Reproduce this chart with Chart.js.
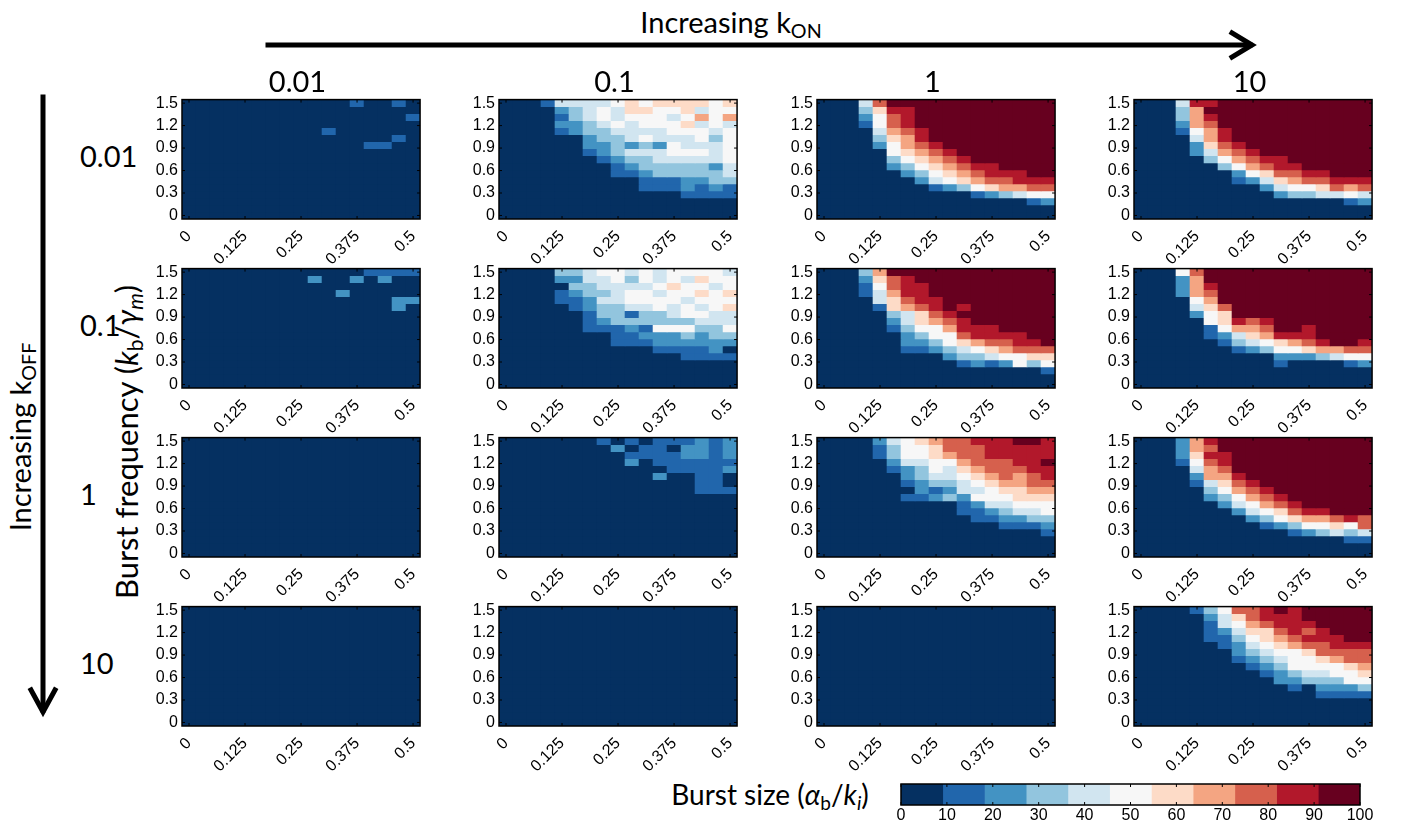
<!DOCTYPE html>
<html>
<head>
<meta charset="utf-8">
<script src="https://cdn.jsdelivr.net/npm/chart.js@4.4.1/dist/chart.umd.min.js"></script>
<style>
  body { margin: 0; background: #fff; }
  #fig { position: relative; width: 1405px; height: 824px; overflow: hidden; background: #fff;
         font-family: Lato, "Liberation Sans", sans-serif; color: #000; }
  #fig canvas { position: absolute; }
  .lbl { position: absolute; white-space: nowrap; transform: translate(-50%, -50%); line-height: 1; }
  .rot { transform: translate(-50%, -50%) rotate(-90deg); }
  .lbl sub { font-size: 68%; vertical-align: -0.25em; }
</style>
</head>
<body>
<div id="fig">
  <svg width="1405" height="824" style="position:absolute;left:0;top:0">
    <g stroke="#000" stroke-width="5" fill="none" stroke-linecap="square">
      <line x1="268" y1="45" x2="1250" y2="45"/>
      <polyline points="1232,33 1252,45 1232,57"/>
      <line x1="43" y1="97" x2="43" y2="710"/>
      <polyline points="31,690 43,712 55,690"/>
    </g>
  </svg>
  <div class="lbl" style="left:731px;top:24px;font-size:29px">Increasing k<sub>ON</sub></div>
  <div class="lbl rot" style="left:22px;top:437px;font-size:29px">Increasing k<sub>OFF</sub></div>
  <div class="lbl rot" style="left:128px;top:442px;font-size:31px">Burst frequency (<i>k</i><sub>b</sub>/<i>γ<sub>m</sub></i>)</div>
  <div class="lbl" style="left:770px;top:796px;font-size:28px">Burst size (<i>α</i><sub>b</sub>/<i>k<sub>i</sub></i>)</div>
</div>
<script>
// grid coordinates of the simulated parameter sweep
const burstSize = [0, 0.03125, 0.0625, 0.09375, 0.125, 0.15625, 0.1875, 0.21875, 0.25,
                   0.28125, 0.3125, 0.34375, 0.375, 0.40625, 0.4375, 0.46875, 0.5];
const burstFreq = [1.5, 1.40625, 1.3125, 1.21875, 1.125, 1.03125, 0.9375, 0.84375, 0.75,
                   0.65625, 0.5625, 0.46875, 0.375, 0.28125, 0.1875, 0.09375, 0];
const xTicks = [0, 0.125, 0.25, 0.375, 0.5];
const yTicks = [0, 0.3, 0.6, 0.9, 1.2, 1.5];
const kOnLabels = ["0.01", "0.1", "1", "10"];
const kOffLabels = ["0.01", "0.1", "1", "10"];

// colour classes (0..10) of the colorbar
const binEdges = [0, 9.09, 18.18, 27.27, 36.36, 45.45, 54.55, 63.64, 72.73, 81.82, 90.91, 100];
const cbTicks = [0, 10, 20, 30, 40, 50, 60, 70, 80, 90, 100];
const palette = ["#053061", "#2166ac", "#4393c3", "#92c5de", "#d1e5f0", "#f7f7f7",
                 "#fddbc7", "#f4a582", "#d6604d", "#b2182b", "#67001f"];

// each panel: rows from top (freq 1.5) to bottom (freq 0), one char per burst size column,
// char = colour class (a = 10)
const Z = "00000000000000000";
const off001_on001 = ["00000000000010010", Z, "00000000000000001", Z, "00000000001000000",
  "00000000000000010", "00000000000001100", Z, Z, Z, Z, Z, Z, Z, Z, Z, Z];
const off001_on01 = ["00014444565666656", "00002345466556455", "00001345455545757",
  "00002234545556454", "00001233444455545", "00000023345444535", "00000022323254445",
  "00000012344455545", "00000001233444445", "00000000123333324", "00000000112333334",
  "00000000001112233", "00000000001112121", "00000000000001111", Z, Z, Z];
const off001_on1 = ["00048aaaaaaaaaaaa", "0003699aaaaaaaaaa", "0002589aaaaaaaaaa",
  "0001589aaaaaaaaaa", "00004789aaaaaaaaa", "00003679aaaaaaaaa", "000025789aaaaaaaa",
  "0000056789aaaaaaa", "00000356789aaaaaa", "0000023567899aaaa", "000000235678999aa",
  "00000002456788999", "00000000123567788", "00000000000123455", "00000000000000012", Z, Z];
const off001_on10 = ["000499aaaaaaaaaaa", "00037aaaaaaaaaaaa", "000379aaaaaaaaaaa",
  "000278aaaaaaaaaaa", "0001579aaaaaaaaaa", "0000479aaaaaaaaaa", "00002689aaaaaaaaa",
  "000024789aaaaaaaa", "00000357899aaaaaa", "000000357899aaaaa", "00000002568899aaa",
  "00000001246788999", "00000000024556878", "00000000002334454", "00000000000000012", Z, Z];

const off01_on001 = ["00000000000001111", "00000000020020200", Z, "00000000000200000",
  "00000000000000022", "00000000000000020", Z, Z, Z, Z, Z, Z, Z, Z, Z, Z, Z];
const off01_on01 = ["00003345545455554", "00002244535454655", "00000334444565545",
  "00001233455455656", "00001124455554555", "00000123344545456", "00000013313345544",
  "00000012333333444", "00000011121555335", "00000000112223233", "00000000111222222",
  "00000000000111120", "00000000000001111", Z, Z, Z, Z];
const off01_on1 = ["00037aaaaaaaaaaaa", "0002689aaaaaaaaaa", "00015899aaaaaaaaa",
  "00014799aaaaaaaaa", "000046899aaaaaaaa", "000016789a9aaaaaa", "0000034689aaaaaaa",
  "00000246789aaaaaa", "0000013557999aaaa", "000000235589999aa", "0000002235678899a",
  "00000011234567888", "00000000023345566", "00000000001212535", "00000000000000001", Z, Z];
const off01_on10 = ["00058aaaaaaaaaaaa", "00027aaaaaaaaaaaa", "000279aaaaaaaaaaa",
  "000278aaaaaaaaaaa", "000057aaaaaaaaaaa", "0000468aaaaaaaaaa", "0000256aaaaaaaaaa",
  "0000056989aaaaaaa", "0000015778aa9aaaa", "0000012467999aaaa", "00000013456789aa9",
  "00000001235567788", "00000000002223455", "00000000001000012", Z, Z, Z];

const off1_on001 = [Z, Z, Z, Z, Z, Z, Z, Z, Z, Z, Z, Z, Z, Z, Z, Z, Z];
const off1_on01 = ["00000001010111212", "00000000201102212", "00000000011112212",
  "00000000020111111", "00000000000011112", "00000000000200110", "00000000000000110",
  "00000000000000111", Z, Z, Z, Z, Z, Z, Z, Z, Z];
const off1_on1 = ["00002456788999aa9", "00001355688899999", "00001355678899999",
  "0000024455788899a", "00000123546788899", "00000023445678789", "00000012334567788",
  "00000002124456677", "00000011232555666", "00000000001244555", "00000000001123445",
  "00000000000112233", "00000000000001112", "00000000000000001", Z, Z, Z];
const off1_on10 = ["000279aaaaaaaaaaa", "000278aaaaaaaaaaa", "0002699aaaaaaaaaa",
  "0001589aaaaaaaaaa", "0000478aaaaaaaaaa", "00002779aaaaaaaaa", "000014689aaaaaaaa",
  "0000035789aaaaaaa", "00000235789aaaaaa", "000000245789aaaaa", "00000002456899aaa",
  "00000000235677898", "00000000012355658", "00000000000123434", "00000000000000011", Z, Z];

const off10_on001 = [Z, Z, Z, Z, Z, Z, Z, Z, Z, Z, Z, Z, Z, Z, Z, Z, Z];
const off10_on01 = [Z, Z, Z, Z, Z, Z, Z, Z, Z, Z, Z, Z, Z, Z, Z, Z, Z];
const off10_on1 = [Z, Z, Z, Z, Z, Z, Z, Z, Z, Z, Z, Z, Z, Z, Z, Z, Z];
const off10_on10 = ["0000135889a9aaaaa", "000002468999aaaaa", "0000014578999aaaa",
  "00000124668989aaa", "000001135678999aa", "00000012456788999", "00000002345568888",
  "00000001234556788", "00000000123555567", "00000000012344556", "00000000002233355",
  "00000000000102223", "00000000000001111", Z, Z, Z, Z];

const panels = [
  [off001_on001, off001_on01, off001_on1, off001_on10],
  [off01_on001, off01_on01, off01_on1, off01_on10],
  [off1_on001, off1_on01, off1_on1, off1_on10],
  [off10_on001, off10_on01, off10_on1, off10_on10],
];

// layout (px)
const panelLeft = [182, 499, 817, 1134];
const panelTop = [98, 267, 436, 605];
const panelW = 241, panelH = 121;
const padL = 40, padR = 12, padT = 12, padB = 52;

const fig = document.getElementById("fig");
const tickFont = { family: "Liberation Sans", size: 16 };

// box round the plot area with small inward ticks, matlab style
const framePlugin = {
  id: "frame",
  afterDatasetsDraw(chart, args, opts) {
    const { ctx, chartArea: a, scales } = chart;
    ctx.save();
    ctx.strokeStyle = "#000";
    ctx.lineWidth = 1;
    (opts.xTicks || []).forEach((v) => {
      const px = scales.x.getPixelForValue(v);
      ctx.beginPath();
      ctx.moveTo(px, a.bottom); ctx.lineTo(px, a.bottom - 3);
      ctx.moveTo(px, a.top); ctx.lineTo(px, a.top + 3);
      ctx.stroke();
    });
    (opts.yTicks || []).forEach((v) => {
      const py = scales.y.getPixelForValue(v);
      ctx.beginPath();
      ctx.moveTo(a.left, py); ctx.lineTo(a.left + 3, py);
      ctx.moveTo(a.right, py); ctx.lineTo(a.right - 3, py);
      ctx.stroke();
    });
    ctx.lineWidth = 1.5;
    ctx.strokeRect(a.left, a.top, a.right - a.left, a.bottom - a.top);
    ctx.restore();
  },
};

function makeCanvas(left, top, w, h) {
  const c = document.createElement("canvas");
  c.width = w; c.height = h;
  c.style.left = left + "px"; c.style.top = top + "px";
  c.style.width = w + "px"; c.style.height = h + "px";
  fig.appendChild(c);
  return c;
}

function drawPanel(grid, left, top) {
  const hx = (burstSize[1] - burstSize[0]) / 2;
  const hy = (burstFreq[0] - burstFreq[1]) / 2;
  const datasets = grid.map((row, r) => ({
    data: burstSize.map((x) => ({ x: x, y: [burstFreq[r] - hy, burstFreq[r] + hy] })),
    backgroundColor: row.split("").map((ch) => palette[parseInt(ch, 16)]),
    borderWidth: 0,
    grouped: false,
    barPercentage: 1,
    categoryPercentage: 1,
  }));
  const canvas = makeCanvas(left - padL, top - padT, panelW + padL + padR, panelH + padT + padB);
  new Chart(canvas, {
    type: "bar",
    data: { datasets: datasets },
    options: {
      responsive: false,
      animation: false,
      events: [],
      layout: { padding: { top: padT, right: padR, left: 0, bottom: 0 } },
      plugins: {
        legend: { display: false },
        tooltip: { enabled: false },
        frame: { xTicks: xTicks, yTicks: yTicks },
      },
      scales: {
        x: {
          type: "linear",
          offset: false,
          min: burstSize[0] - hx,
          max: burstSize[burstSize.length - 1] + hx,
          afterBuildTicks: (s) => { s.ticks = xTicks.map((v) => ({ value: v })); },
          afterFit: (s) => { s.height = padB; },
          grid: { display: false, drawTicks: false },
          border: { display: false },
          ticks: {
            autoSkip: false, minRotation: 45, maxRotation: 45, padding: 8,
            color: "#000", font: tickFont, callback: (v) => String(v),
          },
        },
        y: {
          type: "linear",
          min: burstFreq[burstFreq.length - 1] - hy,
          max: burstFreq[0] + hy,
          afterBuildTicks: (s) => { s.ticks = yTicks.map((v) => ({ value: v })); },
          afterFit: (s) => { s.width = padL; },
          grid: { display: false, drawTicks: false },
          border: { display: false },
          ticks: { padding: 4, color: "#000", font: tickFont, callback: (v) => String(v) },
        },
      },
    },
    plugins: [framePlugin],
  });
}

panels.forEach((rowPanels, i) => {
  rowPanels.forEach((grid, j) => drawPanel(grid, panelLeft[j], panelTop[i]));
});

// column (k_ON) and row (k_OFF) labels
kOnLabels.forEach((t, j) => {
  const d = document.createElement("div");
  d.className = "lbl";
  d.style.left = (panelLeft[j] + panelW / 2 - 5) + "px";
  d.style.top = "80px";
  d.style.fontSize = "29px";
  d.textContent = t;
  fig.appendChild(d);
});
kOffLabels.forEach((t, i) => {
  const d = document.createElement("div");
  d.className = "lbl";
  d.style.left = "80px";
  d.style.top = (panelTop[i] + panelH / 2 - 4) + "px";
  d.style.fontSize = "29px";
  d.style.transform = "translate(0, -50%)";
  d.textContent = t;
  fig.appendChild(d);
});

// colorbar
const cbLeft = 901, cbTop = 784, cbW = 459, cbH = 21;
const cbCanvasH = 40;
const cbCanvas = makeCanvas(cbLeft - 16, cbTop - 8, cbW + 32, cbCanvasH);
new Chart(cbCanvas, {
  type: "bar",
  data: {
    labels: ["cb"],
    datasets: palette.map((c, i) => ({
      data: [[binEdges[i], binEdges[i + 1]]],
      backgroundColor: c,
      borderWidth: 0,
      grouped: false,
      barPercentage: 1,
      categoryPercentage: 1,
    })),
  },
  options: {
    indexAxis: "y",
    responsive: false,
    animation: false,
    events: [],
    layout: { padding: { top: 8, left: 16, right: 16, bottom: 0 } },
    plugins: {
      legend: { display: false },
      tooltip: { enabled: false },
      frame: { xTicks: cbTicks, yTicks: [] },
    },
    scales: {
      x: {
        type: "linear", min: 0, max: 100,
        afterBuildTicks: (s) => { s.ticks = cbTicks.map((v) => ({ value: v })); },
        afterFit: (s) => { s.height = cbCanvasH - 8 - cbH; },
        grid: { display: false, drawTicks: false },
        border: { display: false },
        ticks: { display: false },
      },
      y: { display: false },
    },
  },
  plugins: [framePlugin],
});

// colorbar tick labels as text under the bar, placed by the colorbar's own x scale
const cbChart = Chart.getChart(cbCanvas);
cbTicks.forEach((v) => {
  const d = document.createElement("div");
  d.className = "lbl";
  d.style.left = (cbLeft - 16 + cbChart.scales.x.getPixelForValue(v)) + "px";
  d.style.top = "815px";
  d.style.fontFamily = "'Liberation Sans', sans-serif";
  d.style.fontSize = "16px";
  d.textContent = String(v);
  fig.appendChild(d);
});
</script>
</body>
</html>
